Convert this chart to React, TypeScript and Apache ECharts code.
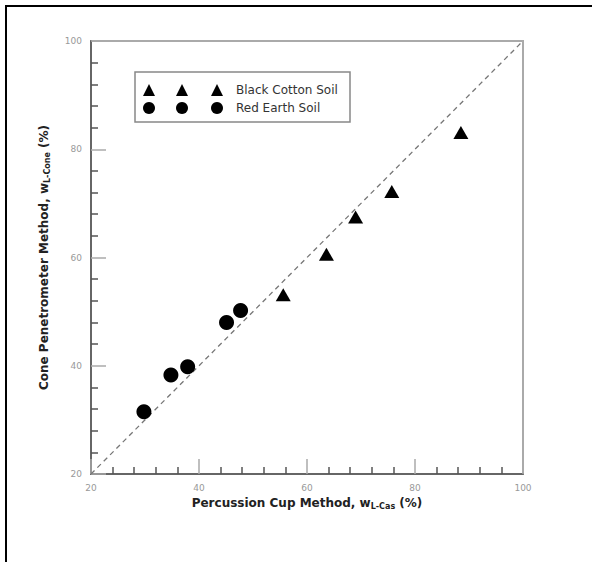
import React, { useEffect, useRef } from "react";
import * as echarts from "echarts";

const cottonX = [55.6, 63.6, 69.0, 75.7, 88.5];
const cottonY = [53.1, 60.6, 67.5, 72.2, 83.1];
const redX = [29.8, 34.8, 37.9, 45.1, 47.7];
const redY = [31.5, 38.3, 39.8, 48.0, 50.2];
const lineX = [20, 100];
const lineY = [20, 100];
const axisMin = 20;
const axisMax = 100;
const axisStep = 20;
const seriesNames = ["Black Cotton Soil", "Red Earth Soil"];

export default function App() {
  const ref = useRef<HTMLDivElement>(null);
  useEffect(() => {
    if (!ref.current) return;
    const chart = echarts.init(ref.current, null, { renderer: "svg" });
    const font = "DejaVu Sans";
    const nameRich = {
      n: { fontFamily: font, fontSize: 12, fontWeight: "bold", color: "#222" },
      s: { fontFamily: font, fontSize: 8, fontWeight: "bold", color: "#222", padding: [7, 0, 0, 0] },
    };
    const legendData = [
      { name: seriesNames[0], icon: "triangle" },
      { name: seriesNames[1], icon: "circle" },
    ];
    const legendBase = {
      orient: "vertical",
      padding: 0,
      itemWidth: 12,
      itemHeight: 12,
      selectedMode: false,
      data: legendData,
      itemStyle: { opacity: 1, color: "#000" },
    };
    const makeAxis = (name: string, gap: number) => ({
      type: "value",
      min: axisMin,
      max: axisMax,
      interval: axisStep,
      name,
      nameLocation: "middle",
      nameGap: gap,
      nameTextStyle: { rich: nameRich },
      axisLine: { show: true, lineStyle: { color: "#666", width: 2 } },
      axisTick: { show: true, inside: true, length: 15, lineStyle: { color: "#aaa", width: 1.5 } },
      minorTick: { show: true, splitNumber: 5, length: 7, lineStyle: { color: "#555", width: 1.5 } },
      splitLine: { show: false },
      axisLabel: { color: "#999", fontSize: 9, fontFamily: font, margin: 9 },
    });
    chart.setOption({
      animation: false,
      backgroundColor: "#fff",
      textStyle: { fontFamily: font },
      grid: { left: 91, right: 69, top: 41, bottom: 88, show: true, borderColor: "#aaa", borderWidth: 2 },
      xAxis: makeAxis("{n|Percussion Cup Method, w}{s|L-Cas}{n| (%)}", 20),
      yAxis: makeAxis("{n|Cone Penetrometer Method, w}{s|L-Cone}{n| (%)}", 40),
      legend: [
        { ...legendBase, left: 143, top: 84, itemGap: 6, formatter: () => "" },
        { ...legendBase, left: 176, top: 84, itemGap: 6, formatter: () => "" },
        {
          ...legendBase,
          left: 211,
          top: 83,
          itemGap: 4,
          textStyle: { fontFamily: font, fontSize: 12, color: "#333", padding: [0, 0, 0, 8], lineHeight: 14 },
        },
      ],
      graphic: [
        { type: "rect", shape: { x: 6, y: 6, width: 700, height: 700 }, style: { fill: "none", stroke: "#000", lineWidth: 2 }, silent: true },
        { type: "rect", shape: { x: 135, y: 72, width: 215, height: 50 }, style: { fill: "none", stroke: "#888", lineWidth: 1.5 }, silent: true },
      ],
      series: [
        {
          type: "line",
          data: lineX.map((x, i) => [x, lineY[i]]),
          symbol: "none",
          silent: true,
          lineStyle: { color: "#777", width: 1.3, type: [5, 4] },
          z: 1,
        },
        {
          name: seriesNames[0],
          type: "scatter",
          symbol: "triangle",
          symbolSize: [15, 13],
          itemStyle: { color: "#000", opacity: 1 },
          data: cottonX.map((x, i) => [x, cottonY[i]]),
          z: 3,
        },
        {
          name: seriesNames[1],
          type: "scatter",
          symbol: "circle",
          symbolSize: 15,
          itemStyle: { color: "#000", opacity: 1 },
          data: redX.map((x, i) => [x, redY[i]]),
          z: 3,
        },
      ],
    });
    return () => chart.dispose();
  }, []);
  return (
    <div
      ref={ref}
      style={{ position: "fixed", left: 0, top: 0, width: 592, height: 562, background: "#fff" }}
    />
  );
}
